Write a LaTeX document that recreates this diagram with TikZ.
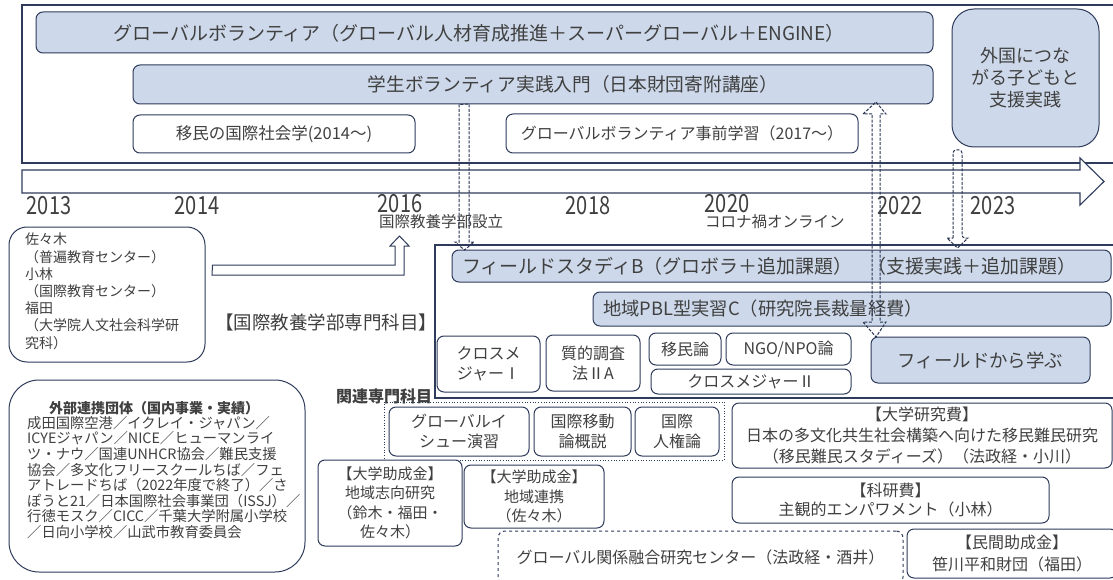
\documentclass[tikz,border=0pt]{standalone}
\usepackage{fontspec}
\setmainfont{Noto Sans CJK JP}
\usetikzlibrary{calc}
\definecolor{navy}{HTML}{2F3B5B}
\definecolor{lblue}{HTML}{CDD9EA}
\definecolor{txt}{HTML}{404040}
\newcommand\fsz[1]{\fontsize{#1}{#1}\selectfont}
\newcommand\mybox[7]{%
 \pgfmathsetmacro\bxcx{(#2+#4)/2}%
 \pgfmathsetmacro\bxcy{(#3+#5)/2}%
 \pgfmathsetmacro\bxw{#4-#2}%
 \pgfmathsetmacro\bxh{#5-#3}%
 \node[#6,minimum width=\bxw pt,minimum height=\bxh pt] (#1) at (\bxcx,\bxcy) {#7};}
\tikzset{
 bbox/.style={draw=navy, line width=1pt, rounded corners=7pt, inner sep=0pt, text=txt, align=center},
 bluebox/.style={bbox, fill=lblue},
 whitebox/.style={bbox, fill=white},
 lbl/.style={text=txt, inner sep=0pt},
 yr/.style={lbl, font=\fsz{25}},
 darr/.style={draw=navy!90!black, line width=1pt, dash pattern=on 3pt off 1.5pt},
 frameline/.style={draw=navy, line width=1.1pt},
}
\begin{document}
\begin{tikzpicture}[x=1pt,y=-1pt]
\useasboundingbox (0,0) rectangle (1113,580);
\clip (0,0) rectangle (1113,580);
\fill[white] (0,0) rectangle (1113,580);
% top frame
\draw[frameline] (1125,5) -- (22,5) -- (22,163) -- (1125,163);
\mybox{glob}{36}{12}{933}{53}{bluebox}{}
\node[lbl,font=\fsz{19}] (globt) at (479,33) {グローバルボランティア（グローバル人材育成推進＋スーパーグローバル＋ENGINE）};
\mybox{gakusei}{133}{65}{933}{104}{bluebox}{}
\node[lbl,font=\fsz{18.7}] (gakuseit) at (573,84.5) {学生ボランティア実践入門（日本財団寄附講座）};
\mybox{imin}{133}{115}{415}{153}{whitebox,font=\fsz{16.5}}{移民の国際社会学(2014〜)}
\mybox{jizen}{506}{114}{858}{153}{whitebox,font=\fsz{16}}{グローバルボランティア事前学習（2017〜）}
\mybox{gaikoku}{952}{9}{1099}{147}{bluebox,rounded corners=22pt,font=\fontsize{18}{22}\selectfont}{外国につな\\がる子どもと\\支援実践}
% timeline
\draw[frameline, fill=white] (22,170) -- (1080,170) -- (1080,158) -- (1104,181.5) -- (1080,205) -- (1080,193) -- (22,193) -- cycle;
\node[yr] (y13) at (49,206) {\scalebox{0.8}[1]{2013}};
\node[yr] (y14) at (197,206) {\scalebox{0.8}[1]{2014}};
\node[yr] (y16) at (400,204) {\scalebox{0.8}[1]{2016}};
\node[yr] (y18) at (588,206) {\scalebox{0.8}[1]{2018}};
\node[yr] (y20) at (727,204) {\scalebox{0.8}[1]{2020}};
\node[yr] (y22) at (900,206) {\scalebox{0.8}[1]{2022}};
\node[yr] (y23) at (993,206) {\scalebox{0.8}[1]{2023}};
\node[lbl,anchor=west,font=\fsz{15.5}] (setsuritsu) at (379,222) {国際教養学部設立};
\node[lbl,anchor=west,font=\fsz{15.5}] (corona) at (705,222) {コロナ禍オンライン};
% left people box
\mybox{sasaki}{9}{227}{205}{362}{bbox,fill=white,rounded corners=18pt}{}
\node[lbl,anchor=north west,align=left,font=\fontsize{14}{17.2}\selectfont] (sasakit) at (25,233) {佐々木\\（普遍教育センター）\\小林\\（国際教育センター）\\福田\\（大学院人文社会科学研\\究科）};
\draw[navy, line width=1pt, fill=white] (sasaki.east |- 0,265) ++(7,0) -- (395,265) -- (395,246) -- (390,246) -- (399.5,236) -- (409,246) -- (404,246) -- (404,275) -- (212,275) -- cycle;
\node[lbl,font=\fsz{18.5}] (kyoyo) at (326,322) {【国際教養学部専門科目】};
% faculty frame
\draw[frameline] (1125,245) -- (435,245) -- (435,398) -- (1125,398);
\mybox{fieldb}{452}{250}{1111}{282}{bluebox}{}
\node[lbl,anchor=west,font=\fsz{19}] (fieldbt) at (462,266) {フィールドスタディB（グロボラ＋追加課題）};
\node[lbl,anchor=west,font=\fsz{19}] (shient) at (867,266) {（支援実践＋追加課題）};
\mybox{pbl}{593}{292}{1111}{326}{bluebox}{}
\node[lbl,anchor=west,font=\fsz{18.3}] (pblt) at (603,309) {地域PBL型実習C（研究院長裁量経費）};
\mybox{cm1}{437}{336}{540}{392}{whitebox,font=\fontsize{16}{20}\selectfont}{クロスメ\\ジャーⅠ}
\mybox{shitsu}{546}{335}{640}{391}{whitebox,font=\fontsize{16}{20}\selectfont}{質的調査\\法ⅡA}
\mybox{iminron}{649}{333}{721}{365}{whitebox,font=\fsz{16}}{移民論}
\mybox{ngo}{726}{333}{851}{365}{whitebox,font=\fsz{16}}{NGO/NPO論}
\mybox{cm2}{651}{369}{851}{394}{whitebox,font=\fsz{16}}{クロスメジャーⅡ}
\mybox{fromfield}{871}{337}{1090}{383}{bluebox,font=\fsz{18.4}}{フィールドから学ぶ}
% related subjects
\node[lbl,font=\bfseries\fsz{16}] (kanrent) at (384,396) {関連専門科目};
\mybox{kanren}{384}{402}{724}{460}{draw=navy,line width=0.7pt,dotted,inner sep=0pt}{}
\mybox{gi}{389}{407}{529}{456}{whitebox,font=\fontsize{16}{20}\selectfont}{グローバルイ\\シュー演習}
\mybox{ido}{534}{407}{631}{456}{whitebox,font=\fontsize{16}{20}\selectfont}{国際移動\\論概説}
\mybox{jinken}{635}{407}{719}{456}{whitebox,font=\fontsize{16}{20}\selectfont}{国際\\人権論}
% research funds
\mybox{kenkyuhi}{732}{403}{1112}{468}{whitebox,font=\fontsize{16}{21}\selectfont}{【大学研究費】\\日本の多文化共生社会構築へ向けた移民難民研究\\（移民難民スタディーズ）（法政経・小川）}
\mybox{kaken}{732}{477}{1049}{523}{whitebox,font=\fontsize{16}{19}\selectfont}{【科研費】\\主観的エンパワメント（小林）}
\mybox{josei1}{318}{460}{462}{546}{whitebox,font=\fontsize{15}{19.5}\selectfont}{【大学助成金】\\地域志向研究\\（鈴木・福田・\\佐々木）}
\mybox{josei2}{464}{465}{604}{528}{whitebox,font=\fontsize{15}{19.5}\selectfont}{【大学助成金】\\地域連携\\（佐々木）}
\mybox{gcenter}{498}{531}{903}{584}{bbox,fill=white,dashed,font=\fsz{16}}{グローバル関係融合研究センター（法政経・酒井）}
\mybox{minkan}{907}{529}{1117}{578}{whitebox,font=\fontsize{16}{22}\selectfont}{【民間助成金】\\笹川平和財団（福田）}
% external partners
\mybox{gaibu}{9}{380}{305}{572}{bbox,fill=white,rounded corners=30pt}{}
\node[lbl,font=\bfseries\fsz{14}] (gaibut) at (154,408) {外部連携団体（国内事業・実績）};
\node[lbl,anchor=north west,align=left,font=\fontsize{14.3}{15.6}\selectfont] (gaibul) at (27,416) {成田国際空港／イクレイ・ジャパン／\\ICYEジャパン／NICE／ヒューマンライ\\ツ・ナウ／国連UNHCR協会／難民支援\\協会／多文化フリースクールちば／フェ\\アトレードちば（2022年度で終了）／さ\\ぽうと21／日本国際社会事業団（ISSJ）／\\行徳モスク／CICC／千葉大学附属小学校\\／日向小学校／山武市教育委員会};
% dashed block arrows
\draw[darr] (gakusei.south -| 459,0) -- (459,242) -- (455,242) -- (464.5,250) -- (474,242) -- (469,242) -- (469,104) -- cycle;
\draw[darr] (872,114) -- (863,114) -- (876,102) -- (886,114) -- (880,114) -- (880,322) -- (886,322) -- (876,337) -- (863,322) -- (872,322) -- cycle;
\draw[darr, rounded corners=3pt] (953,238) -- (953,150) -- (962,150) -- (962,238) [sharp corners] -- (968,238) -- (957.5,248) -- (947,238) -- cycle;
\end{tikzpicture}
\end{document}
